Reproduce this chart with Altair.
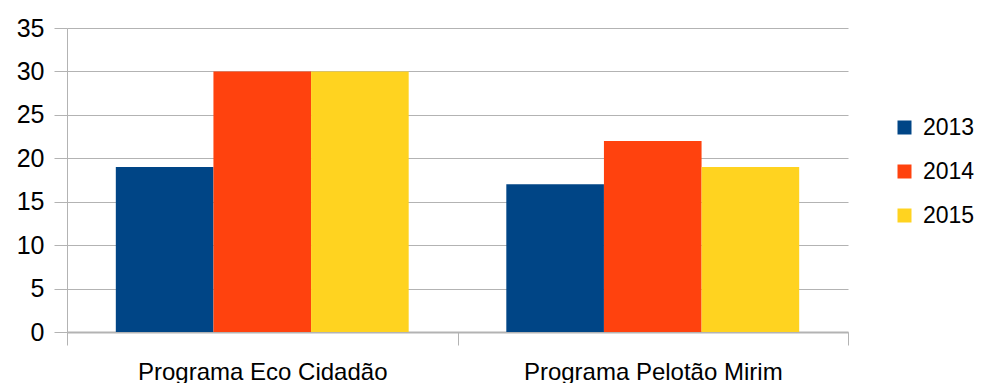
import altair as alt
import pandas as pd

# Participants per programme and year
programas = ["Programa Eco Cidadão", "Programa Pelotão Mirim"]
anos = ["2013", "2014", "2015"]
valores_2013 = [19, 17]
valores_2014 = [30, 22]
valores_2015 = [30, 19]
cores = ["#004586", "#ff420e", "#ffd320"]

linhas = []
for ano, serie in zip(anos, [valores_2013, valores_2014, valores_2015]):
    for programa, v in zip(programas, serie):
        linhas.append({"programa": programa, "ano": ano, "valor": v})
df = pd.DataFrame(linhas)

FONT = "Liberation Sans"
GRID = "#b3b3b3"

chart = (
    alt.Chart(df)
    .mark_bar()
    .encode(
        x=alt.X(
            "programa:N",
            sort=programas,
            title=None,
            scale=alt.Scale(paddingInner=0, paddingOuter=0),
            axis=alt.Axis(
                labelAngle=0,
                labelFont=FONT,
                labelFontSize=24,
                labelColor="#000000",
                labelPadding=15,
                labelLimit=500,
                ticks=True,
                tickBand="extent",
                tickSize=13,
                tickColor=GRID,
                tickWidth=1,
                domainColor=GRID,
                domainWidth=2,
                grid=False,
            ),
        ),
        xOffset=alt.XOffset(
            "ano:N",
            sort=anos,
            scale=alt.Scale(paddingInner=0, paddingOuter=0.5),
        ),
        y=alt.Y(
            "valor:Q",
            title=None,
            scale=alt.Scale(domain=[0, 35], nice=False),
            axis=alt.Axis(
                values=[0, 5, 10, 15, 20, 25, 30, 35],
                labelFont=FONT,
                labelFontSize=25,
                labelColor="#000000",
                labelPadding=10,
                ticks=True,
                tickSize=13,
                tickColor=GRID,
                tickWidth=1,
                domainColor=GRID,
                domainWidth=1,
                gridColor=GRID,
                gridWidth=1,
                grid=True,
            ),
        ),
        color=alt.Color(
            "ano:N",
            sort=anos,
            title=None,
            scale=alt.Scale(domain=anos, range=cores),
            legend=alt.Legend(
                orient="none",
                legendX=826,
                legendY=88,
                padding=0,
                symbolType="square",
                symbolSize=196,
                symbolStrokeWidth=0,
                labelFont=FONT,
                labelFontSize=23,
                labelColor="#000000",
                labelOffset=7,
                rowPadding=20,
            ),
        ),
    )
    .properties(
        width=781,
        height=304,
        autosize=alt.AutoSizeParams(type="none"),
        padding={"left": 67, "top": 28, "right": 139, "bottom": 51},
    )
    .configure_view(stroke=None)
)

chart.save("out.html", embed_options={"renderer": "svg", "actions": False})
